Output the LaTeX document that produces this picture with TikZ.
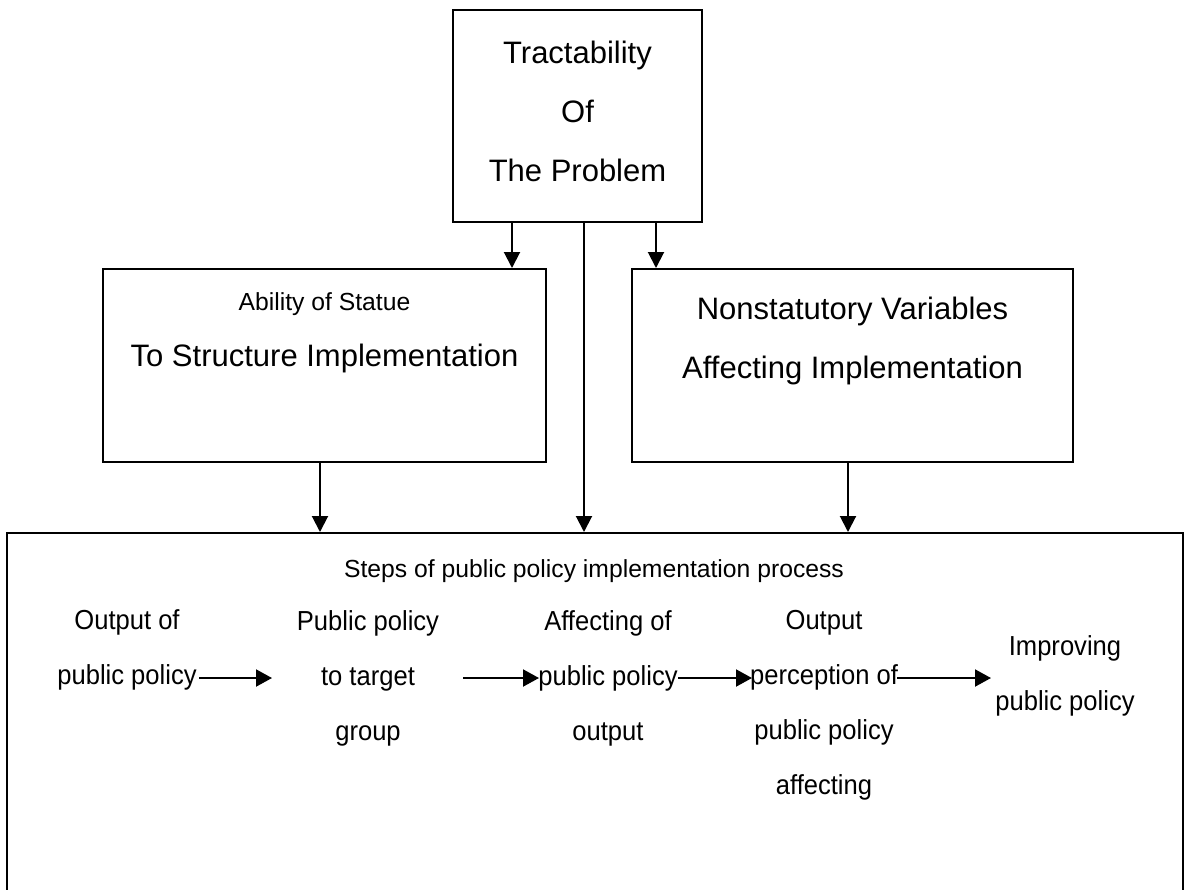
\documentclass[tikz,border=0pt]{standalone}
\usepackage{fontspec}
\setmainfont{Liberation Sans}
\newfontfamily\stepfam[FakeStretch=0.93]{Liberation Sans}
\usetikzlibrary{arrows.meta,calc}
\begin{document}
\begin{tikzpicture}[x=0.5pt,y=-0.5pt,
  box/.style={draw,line width=1pt,inner sep=0pt},
  bigtxt/.style={font=\fontsize{15.5pt}{29.5pt}\selectfont,align=center,inner sep=0pt},
  smalltxt/.style={font=\fontsize{12.35pt}{14pt}\selectfont,inner sep=0pt},
  steptxt/.style={font=\stepfam\fontsize{13.75pt}{27.5pt}\selectfont,align=center,inner sep=0pt},
  arr/.style={line width=1pt,-{Triangle[length=8pt,width=8pt]}},
  sarr/.style={line width=1pt,-{Triangle[length=8pt,width=8.5pt]}}]
\clip (0,0) rectangle (1185,890);
\fill[white] (0,0) rectangle (1185,890);
% boxes
\node[box,minimum width=124.5pt,minimum height=106pt] (tp) at (577.5,116) {};
\node[bigtxt] (tpt) at (577.5,111) {Tractability\\Of\\The Problem};
\node[box,minimum width=221.5pt,minimum height=96.5pt] (ab) at (324.5,365.5) {};
\node[smalltxt] (abt1) at (324.5,304) {Ability of Statue};
\node[bigtxt] (abt2) at (324.5,358) {To Structure Implementation};
\node[box,minimum width=220.5pt,minimum height=96.5pt] (nv) at (852.5,365.5) {};
\node[bigtxt] (nvt) at (852.5,341) {Nonstatutory Variables\\Affecting Implementation};
\node[box,minimum width=588pt,minimum height=233.5pt] (st) at (595,766.5) {};
\node[smalltxt] (sth) at (594,571) {Steps of public policy implementation process};
% steps
\node[steptxt] (s1) at (127,650) {Output of\\public policy};
\node[steptxt] (s2) at (368,678) {Public policy\\to target\\group};
\node[steptxt] (s3) at (608,678) {Affecting of\\public policy\\output};
\node[steptxt] (s4) at (824,705) {Output\\perception of\\public policy\\affecting};
\node[steptxt] (s5) at (1065,676) {Improving\\public policy};
% vertical connectors
\coordinate (c1) at ($(tp.south)+(-65.5,0)$);
\coordinate (c2) at ($(tp.south)+(6.5,0)$);
\coordinate (c3) at ($(tp.south)+(78.5,0)$);
\coordinate (c4) at ($(ab.south)+(-4.5,0)$);
\coordinate (c5) at ($(nv.south)+(-4.5,0)$);
\draw[arr] (c1) -- (c1 |- ab.north);
\draw[arr] (c2) -- (c2 |- st.north);
\draw[arr] (c3) -- (c3 |- nv.north);
\draw[arr] (c4) -- (c4 |- st.north);
\draw[arr] (c5) -- (c5 |- st.north);
% step arrows
\coordinate (a1s) at (199,678); \coordinate (a1e) at (272,678);
\coordinate (a2s) at (463,678); \coordinate (a2e) at (539,678);
\coordinate (a3s) at (678,678); \coordinate (a3e) at (752,678);
\coordinate (a4s) at (897,678); \coordinate (a4e) at (991,678);
\draw[sarr] (a1s) -- (a1e);
\draw[sarr] (a2s) -- (a2e);
\draw[sarr] (a3s) -- (a3e);
\draw[sarr] (a4s) -- (a4e);
\end{tikzpicture}
\end{document}
